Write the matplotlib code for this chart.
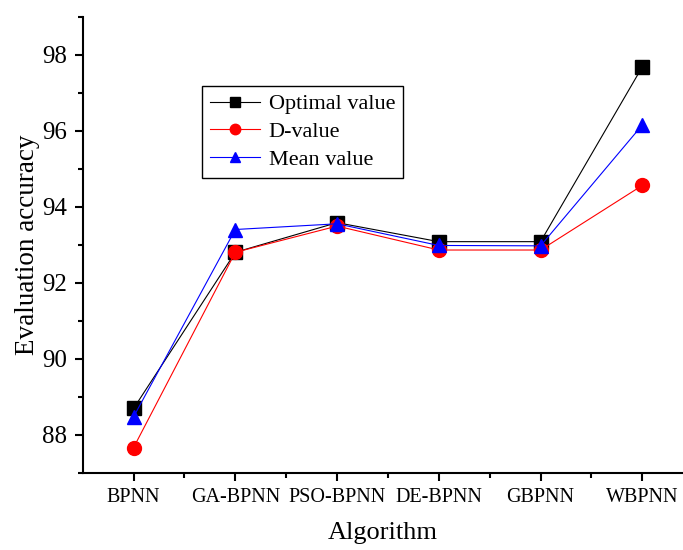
import matplotlib
matplotlib.use("Agg")
import matplotlib.pyplot as plt
from matplotlib.ticker import FixedLocator

plt.rcParams['font.family'] = ['Liberation Serif', 'DejaVu Serif']

algorithms = ["BPNN", "GA-BPNN", "PSO-BPNN", "DE-BPNN", "GBPNN", "WBPNN"]
optimal_value = [88.69, 92.80, 93.58, 93.08, 93.08, 97.68]
d_value = [87.66, 92.80, 93.49, 92.86, 92.86, 94.56]
mean_value = [88.47, 93.40, 93.55, 92.98, 92.97, 96.15]

W, H = 683, 550
fig = plt.figure(figsize=(W / 100, H / 100), dpi=100)
ax = fig.add_axes([82.7 / W, 1 - 472.7 / H, 1 - 82.7 / W, (472.7 - 16.7) / H])

x = list(range(1, len(algorithms) + 1))
ax.plot(x, optimal_value, color='black', lw=0.8, marker='s', ms=10, label='Optimal value')
ax.plot(x, d_value, color='red', lw=0.8, marker='o', ms=10, label='D-value')
ax.plot(x, mean_value, color='blue', lw=0.8, marker='^', ms=10, label='Mean value')

ax.set_xlim(0.5, 6.4)
ax.set_ylim(87, 99)
ax.set_xticks(x)
ax.set_xticklabels(algorithms, fontsize=14.5)
ax.xaxis.set_minor_locator(FixedLocator([1.5, 2.5, 3.5, 4.5, 5.5]))
ax.set_yticks([88, 90, 92, 94, 96, 98])
ax.yaxis.set_minor_locator(FixedLocator([87, 89, 91, 93, 95, 97, 99]))
ax.tick_params(axis='y', labelsize=18)
ax.tick_params(which='major', direction='out', length=6, width=1.5, pad=5)
ax.tick_params(which='minor', direction='out', length=3.5, width=1.5)

for s in ['top', 'right']:
    ax.spines[s].set_visible(False)
for s in ['left', 'bottom']:
    ax.spines[s].set_linewidth(1.5)

ax.set_ylabel('Evaluation accuracy', fontsize=19.5, labelpad=2)
ax.set_xlabel('Algorithm', fontsize=19, labelpad=11)

leg = fig.legend(loc='upper left', bbox_to_anchor=(202 / W, 1 - 86 / H), fontsize=16,
                 frameon=True, fancybox=False, edgecolor='black', framealpha=1,
                 borderaxespad=0, handlelength=2.25, handletextpad=0.4,
                 labelspacing=0.33, borderpad=0.35, markerscale=0.75)
leg.get_frame().set_linewidth(1.0)

fig.savefig('out.png', dpi=100)
